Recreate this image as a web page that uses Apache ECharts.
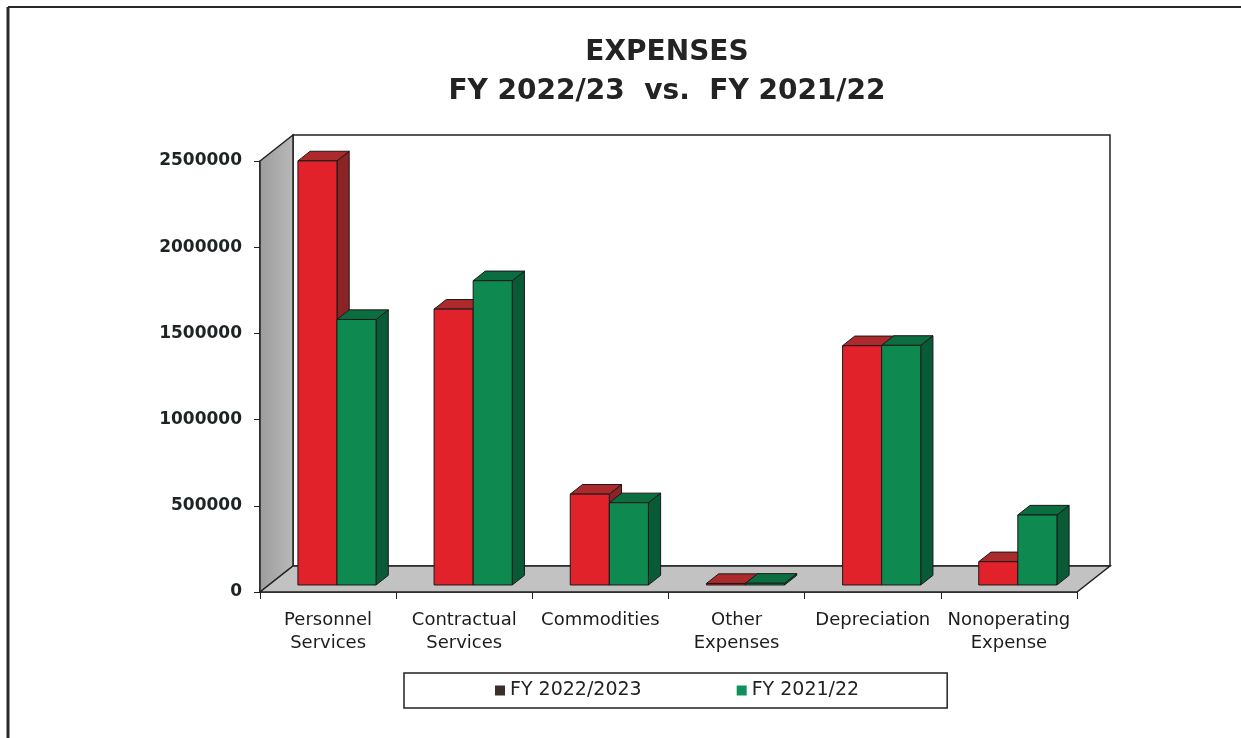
<!DOCTYPE html>
<html><head><meta charset="utf-8">
<script src="https://cdn.jsdelivr.net/npm/echarts@6/dist/echarts.min.js"></script>
<style>html,body{margin:0;padding:0;background:#fff}#c{width:1241px;height:738px}</style>
</head><body><div id="c"></div>
<script>
const categories = ['Personnel\nServices','Contractual\nServices','Commodities','Other\nExpenses','Depreciation','Nonoperating\nExpense'];
const seriesNames = ['FY 2022/2023','FY 2021/22'];
const fy2223 = [2460000,1600000,527000,8000,1388000,135000];
const fy2122 = [1540000,1765000,477000,10000,1390000,406000];
const yMin = 0, yMax = 2500000, yInterval = 500000;

const DEPTH = [33,-26];
const FRONT = 0.27, BACK = 0.64;
const BAR_FRAC = 0.287;
const palettes = [
  {front:'#e1222b', top:'#ad2a2c', side:'#8c2326', legend:'#3b2e2b'},
  {front:'#0e8a50', top:'#0b6d40', side:'#095a37', legend:'#10905a'}
];

function barRender(sIdx){
  return function(params, api){
    const ci = api.value(0), v = api.value(1);
    const p0 = api.coord([ci,0]), p1 = api.coord([ci,v]);
    const band = api.size([1,0])[0];
    const w = band*BAR_FRAC;
    const fx = DEPTH[0]*FRONT, fy = DEPTH[1]*FRONT;
    const dx = DEPTH[0]*(BACK-FRONT), dy = DEPTH[1]*(BACK-FRONT);
    const xl = p0[0] + fx - w + sIdx*w, xr = xl + w;
    const yb = p0[1] + fy; let yt = p1[1] + fy;
    if (yb - yt < 1.5) yt = yb - 1.5;
    const pal = palettes[sIdx];
    const st = {stroke:'#1a1a1a', lineWidth:1, lineJoin:'round'};
    return {type:'group', children:[
      {type:'polygon', shape:{points:[[xr,yt],[xr+dx,yt+dy],[xr+dx,yb+dy],[xr,yb]]}, style:Object.assign({fill:pal.side}, st)},
      {type:'polygon', shape:{points:[[xl,yt],[xr,yt],[xr+dx,yt+dy],[xl+dx,yt+dy]]}, style:Object.assign({fill:pal.top}, st)},
      {type:'rect', shape:{x:xl,y:yt,width:w,height:yb-yt}, style:Object.assign({fill:pal.front}, st)}
    ]};
  };
}

function frameRender(params, api){
  const cs = params.coordSys; const x=cs.x,y=cs.y,w=cs.width,h=cs.height;
  const dx=DEPTH[0], dy=DEPTH[1];
  return {type:'group', children:[
    {type:'polygon', shape:{points:[[x+dx,y+dy],[x+w+dx,y+dy],[x+w+dx,y+h+dy],[x+dx,y+h+dy]]}, style:{fill:'#fff',stroke:'#222',lineWidth:1.5}},
    {type:'polygon', shape:{points:[[x,y],[x+dx,y+dy],[x+dx,y+h+dy],[x,y+h]]},
      style:{fill:new echarts.graphic.LinearGradient(0,0,1,0,[{offset:0,color:'#9c9c9c'},{offset:1,color:'#b9b9b9'}]),stroke:'#222',lineWidth:1.5}},
    {type:'polygon', shape:{points:[[x,y+h],[x+dx,y+h+dy],[x+w+dx,y+h+dy],[x+w,y+h]]}, style:{fill:'#c2c2c2',stroke:'#222',lineWidth:1.5}}
  ]};
}

const chart = echarts.init(document.getElementById('c'), null, {renderer:'canvas'});
const FONT = '"DejaVu Sans", "Liberation Sans", Arial, sans-serif';
chart.setOption({
  backgroundColor:'#fff',
  animation:false,
  title:{
    text:'EXPENSES\nFY 2022/23  vs.  FY 2021/22',
    left:662, top:28, textAlign:'center',
    textStyle:{fontFamily:FONT, fontSize:28, fontWeight:'bold', color:'#232323', lineHeight:39}
  },
  legend:{
    left:404, top:673,
    data:[
      {name:seriesNames[0], itemStyle:{color:palettes[0].legend}},
      {name:seriesNames[1], itemStyle:{color:palettes[1].legend}}
    ],
    icon:'rect', itemWidth:10, itemHeight:10, itemGap:95,
    borderColor:'#222', borderWidth:1.5, padding:[8,88,8,91],
    textStyle:{fontFamily:FONT, fontSize:19, color:'#222'}
  },
  grid:{left:260, top:161, right:164, bottom:146, containLabel:false},
  xAxis:{
    type:'category', data:categories,
    axisLine:{show:true, lineStyle:{color:'#222', width:1.5}},
    axisTick:{show:true, length:7, lineStyle:{color:'#222'}},
    axisLabel:{interval:0, margin:17, fontFamily:FONT, fontSize:18, lineHeight:23, color:'#1c1c1c'}
  },
  yAxis:{
    type:'value', min:yMin, max:yMax, interval:yInterval,
    axisLine:{show:true, lineStyle:{color:'#222', width:1.5}},
    axisTick:{show:true, length:6, lineStyle:{color:'#222'}},
    splitLine:{show:false},
    axisLabel:{margin:18, fontFamily:FONT, fontSize:17, fontWeight:'bold', color:'#1e2424', formatter:function(v){return String(v);}}
  },
  graphic:[
    {type:'line', shape:{x1:8,y1:7,x2:8,y2:738}, style:{stroke:'#2a2a2a', lineWidth:3}},
    {type:'line', shape:{x1:8,y1:7,x2:1241,y2:7}, style:{stroke:'#2a2a2a', lineWidth:2}}
  ],
  series:[
    {type:'custom', name:'frame', silent:true, clip:false, z:1, renderItem:frameRender, data:[[0,0]]},
    {type:'custom', name:seriesNames[0], clip:false, z:3, renderItem:barRender(0), data:fy2223.map((v,i)=>[i,v]), itemStyle:{color:palettes[0].front}},
    {type:'custom', name:seriesNames[1], clip:false, z:4, renderItem:barRender(1), data:fy2122.map((v,i)=>[i,v]), itemStyle:{color:palettes[1].front}}
  ]
});
</script></body></html>
